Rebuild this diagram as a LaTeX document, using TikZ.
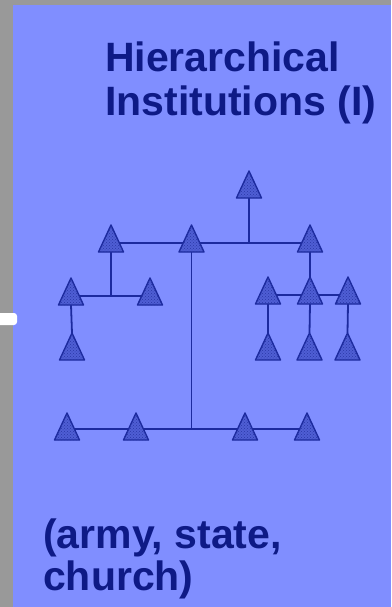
\documentclass[tikz,border=0pt]{standalone}
\usepackage{fontspec}
\setmainfont{Liberation Sans}
\usetikzlibrary{patterns}
\definecolor{bggray}{HTML}{999999}
\definecolor{panel}{HTML}{808EFF}
\definecolor{navy}{HTML}{0E1A86}
\definecolor{linecol}{HTML}{1C2A9E}
\definecolor{trifill}{HTML}{4F5ED4}
\definecolor{tridots}{HTML}{2A38A8}
\newcommand\mytri[1]{\path[fill=trifill,draw=linecol,line width=1.4pt,line join=round,postaction={pattern=crosshatch dots,pattern color=tridots}] (#1) ++(-12.5,0) -- ++(12.5,-27) -- ++(12.5,27) -- cycle;}
\begin{document}
\begin{tikzpicture}[x=1pt,y=-1pt,
  conn/.style={draw=linecol,line width=1.8pt},
  label/.style={font=\bfseries\fontsize{41}{44}\selectfont,text=navy,inner sep=0pt,anchor=base west}]
\useasboundingbox (0,0) rectangle (391,607);
\fill[bggray] (0,0) rectangle (391,607);
\fill[panel] (13,5) rectangle (391,607);
\fill[white,rounded corners=3pt] (-6,313) rectangle (17,325);
% triangle base centres
\coordinate (t0) at (249,198);
\coordinate (a1) at (111,252);
\coordinate (a2) at (191.5,252);
\coordinate (a3) at (310,252);
\coordinate (b1) at (71,305);
\coordinate (b2) at (150,305);
\coordinate (b3) at (72,360);
\coordinate (c1) at (268,304);
\coordinate (c2) at (310,304);
\coordinate (c3) at (348,304);
\coordinate (d1) at (268,360);
\coordinate (d2) at (309.5,360);
\coordinate (d3) at (347.5,360);
\coordinate (e1) at (67,440);
\coordinate (e2) at (136,440);
\coordinate (e3) at (245,440);
\coordinate (e4) at (307,440);
% bar heights and apexes
\coordinate (a1m) at ([yshift=9pt]a1);
\coordinate (a3m) at ([yshift=9pt]a3);
\coordinate (b1m) at ([yshift=9pt]b1);
\coordinate (b2m) at ([yshift=9pt]b2);
\coordinate (c1m) at ([yshift=9pt]c1);
\coordinate (c3m) at ([yshift=9pt]c3);
\coordinate (e1m) at ([yshift=11pt]e1);
\coordinate (e4m) at ([yshift=11pt]e4);
\coordinate (b3top) at ([yshift=27pt]b3);
\coordinate (c2top) at ([yshift=27pt]c2);
\coordinate (d1top) at ([yshift=27pt]d1);
\coordinate (d2top) at ([yshift=27pt]d2);
\coordinate (d3top) at ([yshift=27pt]d3);
% connectors
\draw[conn] (a1m) -- (a3m);
\draw[conn] (t0) -- (t0 |- a1m);
\draw[conn] (b1m) -- (b2m);
\draw[conn] (a1) -- (a1 |- b1m);
\draw[conn] (b1) -- (b3top);
\draw[conn] (c1m) -- (c3m);
\draw[conn] (a3) -- (c2top);
\draw[conn] (c1) -- (d1top);
\draw[conn] (c2) -- (d2top);
\draw[conn] (c3) -- (d3top);
\draw[conn] (e1m) -- (e4m);
\draw[conn] (a2) -- (a2 |- e1m);
% triangles
\foreach \n in {t0,a1,a2,a3,b1,b2,b3,c1,c2,c3,d1,d2,d3,e1,e2,e3,e4}{\mytri{\n}}
% texts
\node[label] (title1) at (105,72) {Hierarchical};
\node[label] (title2) at (105,116) {Institutions (I)};
\node[label] (ex1) at (43,548) {(army, state,};
\node[label] (ex2) at (43,590) {church)};
\end{tikzpicture}
\end{document}
